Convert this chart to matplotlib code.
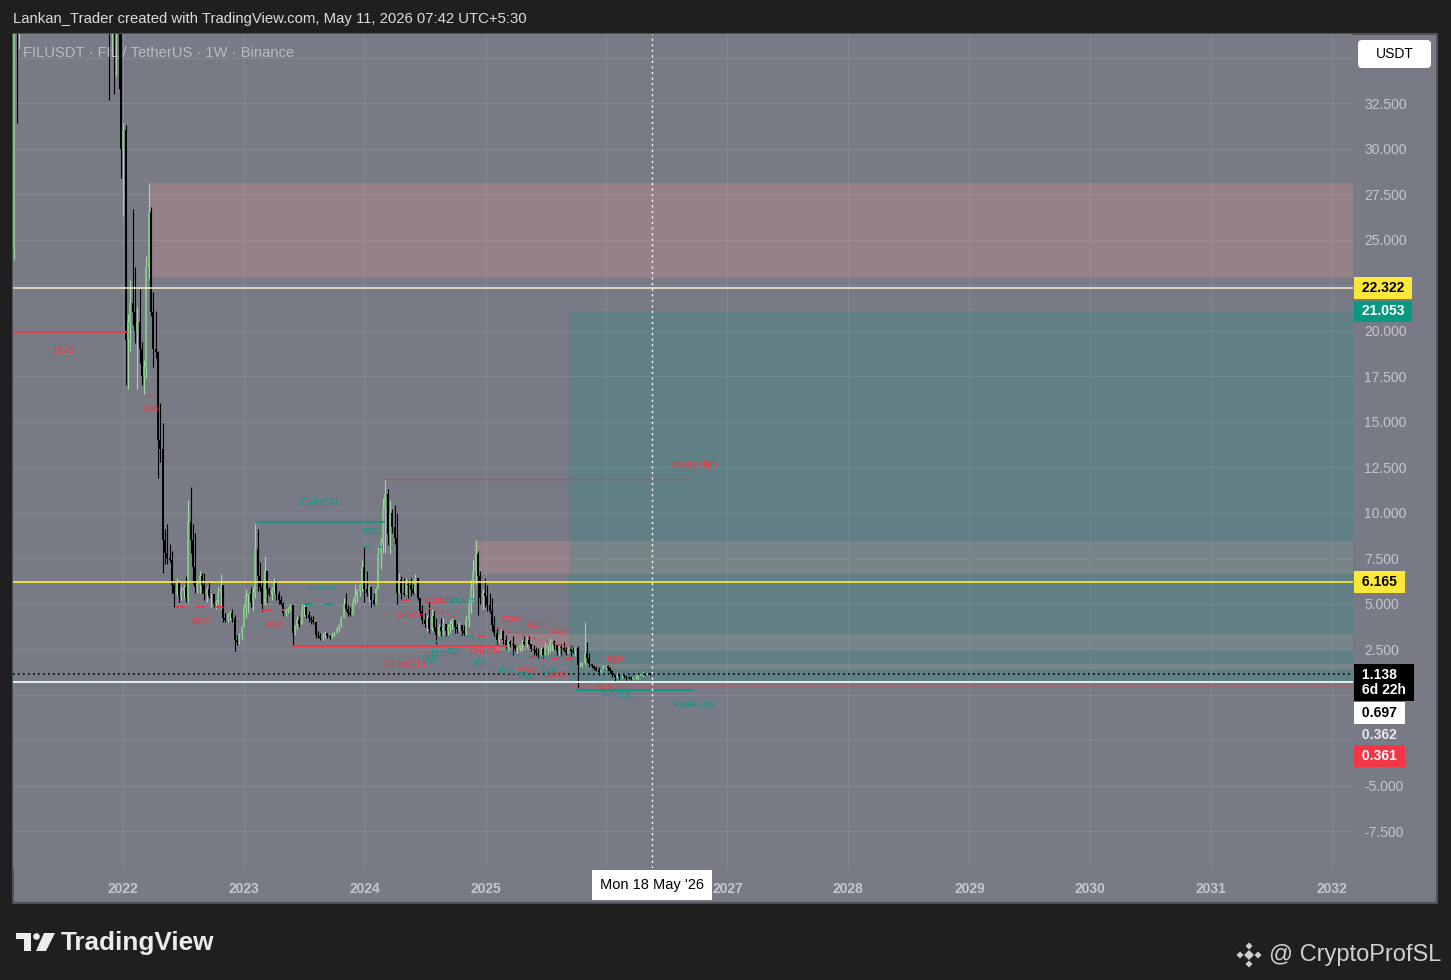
import numpy as np
import matplotlib
matplotlib.use("Agg")
import matplotlib.pyplot as plt
import matplotlib.dates as mdates
from matplotlib.patches import Rectangle, Polygon, Circle, FancyBboxPatch
from matplotlib.ticker import FuncFormatter

plt.rcParams['font.family'] = ['Liberation Sans', 'DejaVu Sans']

W, H = 1451, 980

# FIL/USDT weekly bars (Binance), first bar = week of 1 Feb 2021
first_week = np.datetime64('2021-02-01')
first_open = 21.0

# 2021
highs_a = [25.5, 46, 45, 52, 60, 80, 95, 130, 237, 185, 175, 160, 165, 165, 145, 110, 90, 95, 85, 80,
           70, 62, 60, 56, 50, 56, 62, 72, 80, 88, 105, 110, 95, 90, 78, 74, 70, 66, 64, 66,
           68, 60, 52, 50, 46, 42, 41, 38]
lows_a = [20.5, 23.9, 31.4, 35.5, 42, 52, 70, 85, 115, 140, 130, 110, 125, 130, 95, 55, 60, 75, 68, 65,
          48, 52, 50, 46, 40, 47, 50, 58, 66, 70, 80, 75, 80, 68, 62, 62, 58, 55, 52, 56,
          55, 44, 32.7, 35.2, 33, 34, 33.3, 28.4]
closes_a = [24.5, 41, 36.5, 48, 55, 75, 90, 120, 170, 160, 155, 130, 150, 140, 105, 75, 85, 82, 74, 68,
            58, 56, 54, 47, 48, 54, 60, 70, 72, 84, 98, 85, 88, 72, 70, 66, 62, 58, 60, 62,
            58, 48, 41, 45, 37, 39, 36.5, 30]
# 2022
highs_b = [31.4, 31.3, 20.9, 22.8, 26.7, 23.5, 21.3, 22.3, 19.4, 18.4, 24.1, 28.1, 26.8, 22.1, 21.1, 18.9,
           16.0, 14.9, 9.1, 9.4, 8.3, 7.9, 6.3, 6.4, 6.2, 5.9, 6.0, 6.5, 10.7, 11.4, 9.4, 8.9,
           6.3, 6.8, 6.7, 6.7, 5.9, 6.2, 5.6, 5.5, 5.2, 5.9, 6.6, 6.0, 4.5, 4.5, 4.6, 4.7,
           4.4, 3.3, 3.4, 3.8]
lows_b = [26.3, 17.0, 16.8, 18.9, 20.3, 19.3, 16.8, 18.2, 17.0, 16.5, 17.4, 22.9, 20.8, 18.0, 18.5, 11.9,
          12.8, 6.7, 7.2, 7.2, 7.3, 5.6, 4.8, 5.4, 5.1, 5.2, 5.3, 5.1, 5.1, 7.8, 6.1, 5.6,
          5.6, 5.6, 5.6, 5.2, 5.1, 5.3, 4.8, 4.8, 4.7, 5.0, 4.7, 4.0, 4.0, 4.0, 4.1, 4.0,
          2.4, 2.7, 2.8, 3.0]
closes_b = [31.0, 19.5, 20.5, 21.5, 21.0, 20.0, 20.5, 19.0, 17.5, 18.0, 23.5, 26.5, 21.0, 19.0, 18.8, 14.0,
            13.5, 8.5, 7.8, 7.5, 7.4, 6.0, 5.5, 6.2, 5.4, 5.7, 5.9, 5.3, 9.5, 8.5, 7.0, 5.9,
            6.1, 6.5, 6.0, 5.5, 5.8, 5.4, 5.5, 5.0, 5.1, 5.6, 6.0, 4.2, 4.1, 4.4, 4.5, 4.2,
            3.0, 2.9, 3.3, 3.7]
# 2023
highs_c = [5.0, 5.8, 5.6, 5.9, 5.9, 9.4, 9.1, 7.3, 6.3, 7.6, 6.8, 5.9, 5.9, 6.4, 6.3, 5.7,
           5.4, 5.1, 4.7, 4.8, 5.0, 4.9, 3.8, 4.3, 4.3, 5.0, 5.0, 4.8, 4.6, 4.3, 4.3, 4.0,
           3.5, 3.4, 3.4, 3.5, 3.4, 3.3, 3.4, 3.5, 3.7, 3.9, 4.3, 5.3, 5.6, 4.9, 4.8, 5.3,
           6.1, 5.8, 6.1, 7.4]
lows_c = [3.7, 4.2, 4.5, 4.8, 4.6, 5.3, 5.7, 5.7, 4.6, 4.9, 5.1, 5.4, 5.2, 5.6, 5.2, 5.0,
          4.9, 4.3, 4.3, 4.5, 4.6, 2.7, 3.3, 3.6, 3.7, 3.9, 4.3, 4.2, 4.0, 3.9, 3.9, 3.1,
          3.1, 3.0, 3.0, 3.1, 3.1, 3.05, 3.1, 3.2, 3.4, 3.5, 3.7, 4.2, 4.6, 4.3, 4.3, 4.4,
          4.9, 5.1, 5.4, 5.7]
closes_c = [4.8, 5.4, 5.5, 5.1, 5.6, 8.0, 6.5, 5.9, 5.0, 6.8, 5.8, 5.5, 5.8, 6.2, 5.5, 5.2,
            5.0, 4.5, 4.6, 4.7, 4.9, 3.4, 3.7, 4.1, 3.9, 4.7, 4.8, 4.4, 4.2, 4.1, 4.0, 3.3,
            3.2, 3.1, 3.3, 3.4, 3.2, 3.15, 3.3, 3.4, 3.6, 3.8, 4.2, 5.0, 4.7, 4.5, 4.4, 5.1,
            5.4, 5.7, 6.0, 7.0]
# 2024
highs_d = [8.1, 6.8, 6.0, 5.9, 5.6, 5.9, 8.1, 8.6, 10.8, 11.8, 11.3, 10.7, 10.2, 10.4, 10.0, 6.7,
           6.5, 6.4, 6.4, 6.3, 6.4, 6.1, 6.6, 6.4, 5.3, 4.9, 4.5, 4.4, 5.1, 4.7, 4.6, 4.2,
           3.9, 4.2, 4.2, 3.9, 3.9, 4.1, 4.2, 4.1, 3.9, 4.0, 3.8, 3.8, 4.3, 5.3, 6.3, 7.4,
           8.5, 7.9, 6.8, 5.8]
lows_d = [5.1, 5.4, 5.1, 4.8, 4.9, 5.0, 5.8, 6.9, 7.8, 7.8, 8.2, 7.7, 8.9, 8.3, 5.0, 5.6,
          5.2, 5.4, 5.5, 5.3, 5.4, 5.5, 5.6, 5.2, 4.4, 3.9, 3.7, 3.5, 3.4, 3.5, 3.5, 2.8,
          3.2, 3.2, 3.3, 3.2, 3.2, 3.4, 3.6, 3.4, 3.4, 3.5, 3.3, 3.3, 3.3, 3.7, 4.5, 5.1,
          6.1, 4.4, 5.0, 4.7]
closes_d = [5.8, 5.6, 5.9, 5.2, 5.0, 5.8, 7.8, 8.4, 10.2, 11.0, 8.8, 10.0, 9.2, 8.6, 5.6, 6.3,
            5.6, 5.5, 6.1, 6.0, 5.8, 5.6, 6.4, 5.3, 4.6, 4.1, 3.9, 4.2, 3.6, 4.3, 3.7, 3.3,
            3.7, 3.5, 3.9, 3.5, 3.7, 3.9, 4.1, 3.7, 3.6, 3.8, 3.5, 3.4, 4.1, 5.0, 5.9, 6.8,
            7.7, 6.5, 5.3, 5.6]
# 2025 - May 2026
highs_e = [6.4, 6.0, 5.6, 5.3, 4.3, 3.7, 3.3, 3.6, 3.6, 3.3, 3.0, 3.0, 3.2, 2.8, 2.6, 2.8,
           3.0, 3.2, 3.2, 3.2, 2.8, 2.7, 2.6, 2.55, 2.6, 2.6, 2.9, 2.7, 3.1, 3.0, 3.0, 2.7,
           2.7, 2.8, 2.9, 2.6, 2.6, 2.7, 2.6, 2.6, 2.65, 1.8, 1.8, 4.0, 2.9, 2.3, 1.7, 1.65,
           1.55, 1.5, 1.4, 1.6, 1.6, 1.65, 1.5, 1.35, 1.2, 1.2, 1.15, 1.15, 1.1, 1.05, 1.0, 1.0,
           0.98, 1.05, 1.1, 1.15, 1.3, 1.2, 1.2, 1.18]
lows_e = [4.8, 4.6, 4.5, 3.5, 3.2, 2.7, 2.9, 3.1, 2.8, 2.5, 2.4, 2.6, 2.2, 2.4, 2.3, 2.4,
          2.4, 2.7, 2.6, 2.7, 2.4, 2.2, 2.1, 2.0, 2.2, 2.0, 2.2, 2.2, 2.35, 2.4, 2.5, 2.2,
          2.2, 2.1, 2.4, 2.2, 2.3, 2.1, 2.3, 2.1, 0.361, 1.5, 1.5, 1.7, 1.8, 1.5, 1.45, 1.35,
          1.3, 1.1, 1.2, 1.3, 1.45, 1.3, 1.2, 0.95, 0.75, 0.9, 0.85, 0.9, 0.9, 0.8, 0.85, 0.8,
          0.85, 0.85, 0.85, 0.9, 1.0, 1.05, 1.05, 1.1]
closes_e = [5.4, 4.9, 4.6, 3.8, 3.4, 3.0, 3.2, 3.5, 3.0, 2.6, 2.9, 2.8, 2.7, 2.5, 2.58, 2.75,
            2.9, 2.8, 3.0, 2.8, 2.5, 2.45, 2.3, 2.2, 2.5, 2.2, 2.6, 2.65, 2.9, 2.95, 2.7, 2.4,
            2.6, 2.55, 2.45, 2.3, 2.5, 2.4, 2.35, 2.55, 1.6, 1.65, 1.75, 2.3, 2.0, 1.7, 1.55, 1.45,
            1.35, 1.25, 1.35, 1.5, 1.58, 1.45, 1.3, 1.1, 0.95, 1.1, 1.0, 1.1, 1.0, 0.95, 0.9, 0.85,
            0.95, 1.0, 1.05, 1.1, 1.15, 1.1, 1.16, 1.138]

highs = np.array(highs_a + highs_b + highs_c + highs_d + highs_e)
lows = np.array(lows_a + lows_b + lows_c + lows_d + lows_e)
closes = np.array(closes_a + closes_b + closes_c + closes_d + closes_e)
opens = np.concatenate([[first_open], closes[:-1]])

# horizontal levels drawn on the chart
level_white = 22.322
level_target = 21.053
level_yellow = 6.165
last_price = closes[-1]
entry_price = 0.697
stop_price = 0.361
other_low = 0.362

# smart-money-concept annotations: (from week, to week, price, colour, style)
red = '#f23645'
teal = '#089981'
struct_lines = [
    (0.1, 49.5, 19.92, red, '-', 1.2),
    (57.9, 60.5, 16.46, red, '-', 1.0),
    (70.8, 91.1, 4.81, red, (0, (5, 6)), 1.3),
    (107.9, 117.4, 4.64, red, (0, (5, 6)), 1.3),
    (105.8, 160.5, 9.48, teal, '-', 1.2),
    (126.0, 141.1, 4.97, teal, (0, (5, 6)), 1.3),
    (151.5, 159.7, 8.10, teal, (0, (4, 5)), 1.3),
    (121.3, 213.2, 2.66, red, '-', 1.3),
    (160.5, 293.4, 11.84, red, '-', 0.8),
    (168.3, 171.3, 5.19, red, '-', 1.3),
    (201.5, 203.7, 3.21, red, '-', 1.3),
    (223.3, 225.2, 2.06, red, '-', 1.3),
    (233.0, 235.1, 1.95, red, '-', 1.3),
    (239.0, 241.6, 1.95, red, '-', 1.3),
    (243.3, 293.4, 0.33, red, '-', 0.9),
    (243.3, 293.4, 0.25, teal, '-', 0.9),
]
eq_lines = [
    ([180.0, 192.0], [4.75, 4.26], red),
    ([177.8, 182.1, 189.9, 197.2, 208.8], [3.16, 2.88, 3.27, 3.21, 2.88], teal),
    ([208.8, 217.9, 224.4, 239.0], [2.88, 2.12, 2.06, 2.17], teal),
    ([209.3, 241.6], [3.65, 2.55], red),
    ([254.5, 262.0], [1.95, 1.70], red),
    ([254.6, 262.0, 271.8], [1.35, 1.05, 0.95], teal),
]
smc_labels = [
    (22.6, 18.93, 'BOS', red, 7.5),
    (60.0, 15.69, 'BOS', red, 5.5),
    (81.6, 4.04, 'BOS', red, 6.5),
    (113.5, 3.82, 'BOS', red, 6.5),
    (132.5, 10.52, 'CHoCH', teal, 8),
    (133.8, 5.85, 'CHoCH', teal, 6),
    (154.9, 8.98, 'BOS', teal, 6.5),
    (169.6, 1.62, 'CHoCH', red, 9),
    (294.2, 12.66, 'Strong High', red, 6.3),
    (294.2, -0.52, 'Weak Low', teal, 6.3),
    (181.7, 5.19, 'EQH', red, 6.3),
    (186.8, 5.15, 'BOS', red, 6.3),
    (193.7, 5.15, 'CHoCH', teal, 6.3),
    (171.7, 4.37, 'CHoCH', red, 6.3),
    (180.4, 2.00, 'EQL', teal, 6.3),
    (184.3, 2.28, 'EQL', teal, 6.3),
    (191.2, 2.39, 'EQL', teal, 6.3),
    (204.1, 2.39, 'CHoCH', red, 6.3),
    (202.4, 1.73, 'EQL', teal, 6.3),
    (215.3, 4.15, 'EQH', red, 6.3),
    (226.1, 3.87, 'EQH', red, 6.3),
    (236.4, 3.54, 'EQH', red, 6.3),
    (213.6, 1.29, 'EQL', teal, 6.3),
    (221.8, 1.29, 'BOS', red, 6.3),
    (221.8, 1.07, 'EQL', teal, 6.3),
    (232.1, 1.35, 'EQL', teal, 6.3),
    (234.7, 1.13, 'BOS', red, 6.3),
    (260.1, 1.95, 'EQH', red, 5.8),
    (255.8, 0.36, 'BOS', red, 5.8),
    (257.6, 0.03, 'EQL', teal, 5.8),
    (264.5, -0.03, 'EQL', teal, 5.8),
]
# supply zones: (start week, top, bottom)
zones = [(59.2, 28.10, 22.88), (199.3, 8.43, 6.63), (208.8, 3.32, 2.45), (247.2, 1.68, 1.40)]
position_start = 240.3

# right-axis price tags: (price, text, face, text colour, shift in px)
price_tags = [
    (level_white, '22.322', '#fbe83b', 'black', 0),
    (level_target, '21.053', '#089981', 'white', 0),
    (level_yellow, '6.165', '#fbe83b', 'black', 0),
    (last_price, '1.138\n6d 22h', 'black', 'white', -9),
    (entry_price, '0.697', 'white', 'black', -31),
    (other_low, '0.362', None, '#e6e8ee', -47),
    (stop_price, '0.361', red, 'white', -68),
]
years = list(range(2022, 2033))
cursor_date = np.datetime64('2026-05-18')


def wk(i):
    return mdates.date2num(first_week) + 7 * np.asarray(i)


gray = '#787b86'
dark = '#1f1f1f'
fig = plt.figure(figsize=(W / 100, H / 100), dpi=100, facecolor=dark)

# panel behind everything
back = fig.add_axes([0, 0, 1, 1], zorder=-1)
back.set_xlim(0, W)
back.set_ylim(H, 0)
back.axis('off')
back.add_patch(Rectangle((13, 34), 1424, 869, fc=gray, ec='#505259', lw=1.5))

ax = fig.add_axes([13 / W, (H - 868) / H, 1340 / W, 834 / H])
ax.set_facecolor(gray)
for s in ax.spines.values():
    s.set_visible(False)
xmin = mdates.date2num(np.datetime64('2021-02-04'))
xmax = mdates.date2num(np.datetime64('2032-03-04'))
ax.set_xlim(xmin, xmax)
ax.set_ylim(-9.53, 36.3)

# grid and ticks
ax.set_yticks(np.arange(-7.5, 36, 2.5))
hidden = {35.0, 22.5, 0.0, -2.5}
ax.yaxis.set_major_formatter(FuncFormatter(
    lambda v, p: '' if round(v, 1) in hidden else f'{v:.3f}'))
ax.yaxis.tick_right()
ax.tick_params(axis='y', length=0, pad=8, labelsize=10, labelcolor='#c4c7cf')
year_x = [mdates.date2num(np.datetime64(f'{y}-01-01')) for y in years]
ax.set_xticks(year_x)
ax.set_xticklabels(['' if y == 2026 else str(y) for y in years])
ax.tick_params(axis='x', length=0, pad=10, labelsize=10, labelcolor='#c4c7cf')
for t in ax.get_xticklabels():
    t.set_fontweight('bold')
ax.grid(True, color='#858893', lw=0.8)
ax.set_axisbelow(True)

# zones and long position tool
for start, top, bot in zones:
    ax.add_patch(Rectangle((wk(start), bot), xmax - wk(start), top - bot,
                           fc='#ff9a9a', alpha=0.22, lw=0, zorder=1))
ax.add_patch(Rectangle((wk(position_start), entry_price), xmax - wk(position_start),
                       level_target - entry_price, fc=teal, alpha=0.2, lw=0, zorder=1))
ax.add_patch(Rectangle((wk(position_start), stop_price), xmax - wk(position_start),
                       entry_price - stop_price, fc=red, alpha=0.2, lw=0, zorder=1))

# candles
x = wk(np.arange(len(closes)))
up = closes >= opens
up_col, down_col = '#7fc784', '#000000'
ax.vlines(x[up], lows[up], highs[up], color='#a3d8a6', lw=0.8, zorder=3)
ax.vlines(x[up], opens[up], closes[up], color=up_col, lw=1.4, zorder=3)
ax.vlines(x[~up], lows[~up], highs[~up], color=down_col, lw=0.8, zorder=3)
ax.vlines(x[~up], closes[~up], opens[~up], color=down_col, lw=1.4, zorder=3)

# structure
for x0, x1, p, c, ls, lw in struct_lines:
    ax.plot([wk(x0), wk(x1)], [p, p], color=c, ls=ls, lw=lw, zorder=4)
for xs_, ys_, c in eq_lines:
    ax.plot(wk(xs_), ys_, color=c, ls=(0, (1, 2.5)), lw=1.3, zorder=4)
for xi, p, txt, c, fs in smc_labels:
    ax.text(wk(xi), p, txt, color=c, fontsize=fs, ha='center', va='center', zorder=6)

# horizontal levels
ax.axhline(level_white, color='#f7f2c4', lw=1.1, zorder=5)
ax.axhline(level_yellow, color='#f5e53a', lw=1.3, zorder=5)
ax.axhline(entry_price, color='#dff3ec', lw=1.4, zorder=5)
ax.axhline(last_price, color='black', lw=1.2, ls=(0, (1, 2)), zorder=5)
cx = mdates.date2num(cursor_date)
ax.axvline(cx, color='white', lw=1, ls=(0, (1.5, 2.5)), zorder=5)

# price tags on the right scale
for p, txt, fc, tc, dy in price_tags:
    box = None if fc is None else dict(boxstyle='square,pad=0.28', fc=fc, ec='none')
    padded = '\n'.join(' ' + line + ' ' for line in txt.split('\n'))
    ax.annotate(padded, xy=(1, p), xycoords=('axes fraction', 'data'), xytext=(5, dy),
                textcoords='offset pixels', ha='left', va='center', fontsize=10,
                fontweight='bold', color=tc, bbox=box, linespacing=1.1,
                annotation_clip=False, zorder=8)

# cursor date tag
ax.annotate("Mon 18 May '26", xy=(cx, 0), xycoords=('data', 'axes fraction'),
            xytext=(0, -17), textcoords='offset pixels', ha='center', va='center',
            fontsize=10.5, color='black',
            bbox=dict(boxstyle='square,pad=0.55', fc='white', ec='none'),
            annotation_clip=False, zorder=8)

ax.text(10 / 1340, 1 - 19 / 834, 'FILUSDT · FIL / TetherUS · 1W · Binance',
        transform=ax.transAxes, fontsize=10.6, color='#b9bcc5', ha='left', va='center', zorder=9)

# header, footer and logos
deco = fig.add_axes([0, 0, 1, 1], zorder=5)
deco.set_xlim(0, W)
deco.set_ylim(H, 0)
deco.axis('off')
deco.text(13, 19, 'Lankan_Trader created with TradingView.com, May 11, 2026 07:42 UTC+5:30',
          fontsize=10.7, color='#dcdcdc', ha='left', va='center')
deco.add_patch(FancyBboxPatch((1358, 40), 73, 28, boxstyle='round,pad=0,rounding_size=4',
                              fc='white', ec='none'))
deco.text(1394.5, 54.5, 'USDT', fontsize=10, color='black', ha='center', va='center')
# TradingView logo
logo_col = '#ececec'
deco.add_patch(Polygon([(16, 933), (31, 933), (31, 951), (24, 951), (24, 939), (16, 939)],
                       closed=True, fc=logo_col, ec='none'))
deco.add_patch(Circle((36.5, 936.5), 3.3, fc=logo_col, ec='none'))
deco.add_patch(Polygon([(44, 933), (55, 933), (46, 951), (36, 951)], closed=True,
                       fc=logo_col, ec='none'))
deco.text(61, 943, 'TradingView', fontsize=18.8, fontweight='bold', color=logo_col,
          ha='left', va='center')
# watermark
mark_col = '#cfcfcf'
for dx, dy, r in [(0, 0, 5), (-9, 0, 3.5), (9, 0, 3.5), (0, -9, 3.5), (0, 9, 3.5)]:
    cx_, cy_ = 1249 + dx, 955 + dy
    deco.add_patch(Polygon([(cx_, cy_ - r), (cx_ + r, cy_), (cx_, cy_ + r), (cx_ - r, cy_)],
                           closed=True, fc=mark_col, ec='none'))
deco.text(1441, 955, '@ CryptoProfSL', fontsize=17, color=mark_col, ha='right', va='center')

fig.savefig('out.png', dpi=100, facecolor=dark)
